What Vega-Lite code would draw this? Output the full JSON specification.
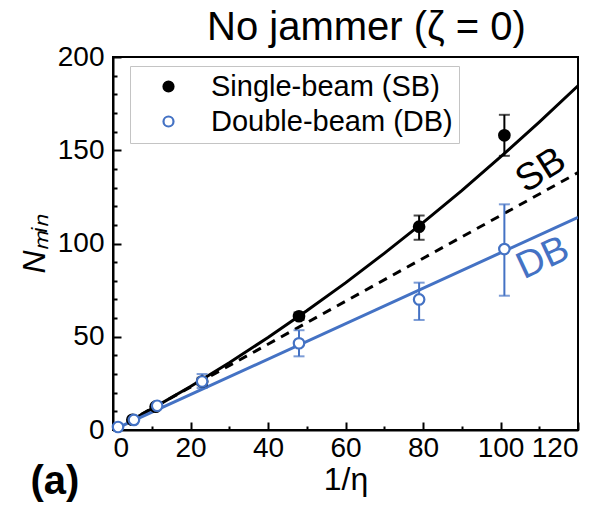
{
  "$schema": "https://vega.github.io/schema/vega-lite/v6.json",
  "width": 465,
  "height": 373,
  "autosize": "none",
  "padding": {"left": 113, "top": 57, "right": 27, "bottom": 76},
  "background": "white",
  "config": {
    "font": "Liberation Sans",
    "view": {"stroke": "black", "strokeWidth": 2},
    "axis": {
      "domainColor": "black", "domainWidth": 2,
      "tickColor": "black", "tickWidth": 2, "tickSize": -7,
      "labelColor": "black", "labelFont": "Liberation Sans", "labelFontSize": 28, "labelOverlap": false,
      "titleColor": "black", "titleFont": "Liberation Sans", "titleFontSize": 32, "titleFontWeight": "normal",
      "grid": false
    },
    "legend": {
      "labelFontSize": 29, "labelFont": "Liberation Sans", "labelColor": "black",
      "strokeColor": "#c4c4c4", "padding": 6, "rowPadding": 5,
      "symbolSize": 100, "symbolStrokeWidth": 2.2, "labelOffset": 28, "symbolOffset": 18, "labelLimit": 400
    }
  },
  "datasets": {
    "pts": [
      {"series": "Single-beam (SB)", "x": 5, "y": 5.5, "lo": 5.5, "hi": 5.5},
      {"series": "Single-beam (SB)", "x": 11, "y": 12.5, "lo": 12.5, "hi": 12.5},
      {"series": "Single-beam (SB)", "x": 23, "y": 26, "lo": 24, "hi": 28},
      {"series": "Single-beam (SB)", "x": 48, "y": 61, "lo": 59, "hi": 63},
      {"series": "Single-beam (SB)", "x": 79, "y": 109, "lo": 102, "hi": 115},
      {"series": "Single-beam (SB)", "x": 101, "y": 158, "lo": 147, "hi": 169},
      {"series": "Double-beam (DB)", "x": 1.3, "y": 1.6, "lo": 1.6, "hi": 1.6},
      {"series": "Double-beam (DB)", "x": 5.4, "y": 5.4, "lo": 5.4, "hi": 5.4},
      {"series": "Double-beam (DB)", "x": 11.4, "y": 13, "lo": 13, "hi": 13},
      {"series": "Double-beam (DB)", "x": 23, "y": 26, "lo": 22.5, "hi": 30},
      {"series": "Double-beam (DB)", "x": 48, "y": 46.5, "lo": 39.5, "hi": 53.5},
      {"series": "Double-beam (DB)", "x": 79, "y": 70, "lo": 59, "hi": 79},
      {"series": "Double-beam (DB)", "x": 101, "y": 97, "lo": 72, "hi": 121}
    ],
    "sbfit": [
      {"x": 4, "y": 4.4}, {"x": 10, "y": 11.3}, {"x": 20, "y": 23.3}, {"x": 30, "y": 36.1},
      {"x": 40, "y": 49.6}, {"x": 50, "y": 63.9}, {"x": 60, "y": 78.9}, {"x": 70, "y": 94.7},
      {"x": 80, "y": 111.2}, {"x": 90, "y": 128.4}, {"x": 100, "y": 146.4}, {"x": 110, "y": 165.1},
      {"x": 120, "y": 184.6}
    ],
    "sblin": [{"x": 0, "y": 0}, {"x": 120, "y": 138}],
    "dblin": [{"x": 0, "y": 0}, {"x": 120, "y": 114}],
    "labels": [
      {"t": "SB", "x": 110.5, "y": 139},
      {"t": "DB", "x": 111, "y": 92},
      {"t": "(a)", "x": -15, "y": -28}
    ]
  },
  "title": {"text": "No jammer (ζ = 0)", "fontSize": 40, "font": "Liberation Sans", "fontWeight": "normal", "color": "black", "frame": "group", "offset": -5, "anchor": "middle", "dx": 21},
  "encoding": {
    "x": {"field": "x", "type": "quantitative", "scale": {"domain": [0, 120], "nice": false},
          "axis": {"title": "1/η", "values": [0,10,20,30,40,50,60,70,80,90,100,110,120], "tickCount": 100,
                   "labelExpr": "datum.value % 20 == 0 ? datum.label : ''",
                   "labelFontSize": {"condition": {"test": "datum.value % 20 != 0", "value": 0}, "value": 28},
                   "tickSize": {"condition": {"test": "datum.value % 20 != 0", "value": -4}, "value": -8},
                   "labelOverlap": false, "labelPadding": 12, "titlePadding": 2}},
    "y": {"field": "y", "type": "quantitative", "scale": {"domain": [0, 200], "nice": false},
          "axis": {"title": "Nₘᵢₙ", "titleFontStyle": "italic", "values": [0,10,20,30,40,50,60,70,80,90,100,110,120,130,140,150,160,170,180,190,200], "tickCount": 100,
                   "labelExpr": "datum.value % 50 == 0 ? datum.label : ''",
                   "labelFontSize": {"condition": {"test": "datum.value % 50 != 0", "value": 0}, "value": 28},
                   "tickSize": {"condition": {"test": "datum.value % 50 != 0", "value": -4}, "value": -8},
                   "labelOverlap": false, "labelPadding": 17, "titlePadding": 6}}
  },
  "layer": [
    {
      "data": {"name": "sblin"},
      "mark": {"type": "line", "color": "black", "strokeWidth": 3, "strokeDash": [9, 7], "clip": true}
    },
    {
      "data": {"name": "sbfit"},
      "mark": {"type": "line", "color": "black", "strokeWidth": 3, "clip": true}
    },
    {
      "data": {"name": "dblin"},
      "mark": {"type": "line", "color": "#4472C4", "strokeWidth": 3, "clip": true}
    },
    {
      "data": {"name": "pts"},
      "transform": [{"filter": "datum.series == 'Single-beam (SB)'"}],
      "mark": {"type": "errorbar", "color": "black", "ticks": {"size": 11, "thickness": 2}, "rule": {"strokeWidth": 2}},
      "encoding": {
        "y": {"field": "lo", "type": "quantitative", "scale": {"domain": [0, 200], "nice": false},
              "axis": {"title": "Nₘᵢₙ", "titleFontStyle": "italic", "values": [0,10,20,30,40,50,60,70,80,90,100,110,120,130,140,150,160,170,180,190,200], "tickCount": 100,
                       "labelExpr": "datum.value % 50 == 0 ? datum.label : ''",
                       "labelFontSize": {"condition": {"test": "datum.value % 50 != 0", "value": 0}, "value": 28},
                       "tickSize": {"condition": {"test": "datum.value % 50 != 0", "value": -4}, "value": -8},
                       "labelOverlap": false, "labelPadding": 17, "titlePadding": 6}},
        "y2": {"field": "hi"}
      }
    },
    {
      "data": {"name": "pts"},
      "transform": [{"filter": "datum.series == 'Double-beam (DB)'"}],
      "mark": {"type": "errorbar", "color": "#4472C4", "ticks": {"size": 11, "thickness": 2}, "rule": {"strokeWidth": 2}},
      "encoding": {
        "y": {"field": "lo", "type": "quantitative", "scale": {"domain": [0, 200], "nice": false},
              "axis": {"title": "Nₘᵢₙ", "titleFontStyle": "italic", "values": [0,10,20,30,40,50,60,70,80,90,100,110,120,130,140,150,160,170,180,190,200], "tickCount": 100,
                       "labelExpr": "datum.value % 50 == 0 ? datum.label : ''",
                       "labelFontSize": {"condition": {"test": "datum.value % 50 != 0", "value": 0}, "value": 28},
                       "tickSize": {"condition": {"test": "datum.value % 50 != 0", "value": -4}, "value": -8},
                       "labelOverlap": false, "labelPadding": 17, "titlePadding": 6}},
        "y2": {"field": "hi"}
      }
    },
    {
      "data": {"name": "pts"},
      "mark": {"type": "point", "shape": "circle", "size": 110, "strokeWidth": 2.2, "opacity": 1},
      "encoding": {
        "fill": {"field": "series", "type": "nominal", "scale": {"domain": ["Single-beam (SB)", "Double-beam (DB)"], "range": ["black", "white"]},
                 "legend": {"title": null, "orient": "none", "legendX": 17, "legendY": 9}},
        "stroke": {"field": "series", "type": "nominal", "scale": {"domain": ["Single-beam (SB)", "Double-beam (DB)"], "range": ["black", "#4472C4"]},
                 "legend": {"title": null, "orient": "none", "legendX": 17, "legendY": 9}}
      }
    },
    {
      "data": {"name": "labels"},
      "transform": [{"filter": "datum.t == 'SB'"}],
      "mark": {"type": "text", "font": "Liberation Sans", "fontSize": 38, "angle": -32, "color": "black"},
      "encoding": {"text": {"field": "t"}}
    },
    {
      "data": {"name": "labels"},
      "transform": [{"filter": "datum.t == 'DB'"}],
      "mark": {"type": "text", "font": "Liberation Sans", "fontSize": 38, "angle": -25, "color": "#4472C4"},
      "encoding": {"text": {"field": "t"}}
    },
    {
      "data": {"name": "labels"},
      "transform": [{"filter": "datum.t == '(a)'"}],
      "mark": {"type": "text", "font": "Liberation Sans", "fontSize": 40, "fontWeight": "bold", "color": "black", "clip": false},
      "encoding": {"text": {"field": "t"}}
    }
  ]
}
